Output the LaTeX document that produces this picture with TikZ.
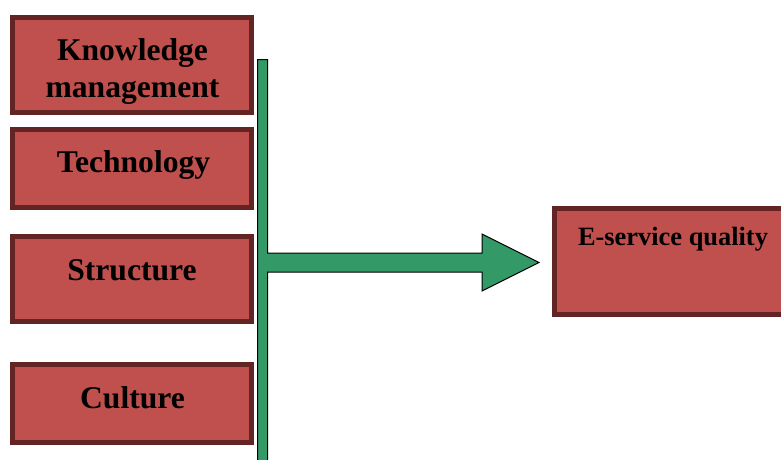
\documentclass[tikz,border=0pt]{standalone}
\usepackage{fontspec}
\setmainfont{Liberation Serif}

\definecolor{boxred}{HTML}{C0504D}
\definecolor{boxedge}{HTML}{632523}
\definecolor{arrowgreen}{HTML}{339966}

\begin{document}
\begin{tikzpicture}[x=1pt, y=-1pt,
    factor/.style={rectangle, draw=boxedge, fill=boxred, line width=5pt,
        anchor=north west, inner sep=0pt, outer sep=0pt, minimum width=239pt},
    caption/.style={anchor=base, inner sep=0pt, align=center,
        font=\fontsize{31.6}{37}\selectfont\bfseries}]

    \useasboundingbox (0,0) rectangle (781,459);

    % the four factors
    \node [factor, minimum height=95pt] (knowledge) at (12.5,17.5) {};
    \node [factor, minimum height=78pt] (technology) at (12.5,129.5) {};
    \node [factor, minimum height=85pt] (structure) at (12.5,236.5) {};
    \node [factor, minimum height=78pt] (culture) at (12.5,364.5) {};
    % base is the last line for the two-line caption
    \node [caption] (knowledgetext) at (132.5,97) {Knowledge\\management};
    \node [caption] (technologytext) at (133.5,172) {Technology};
    \node [caption] (structuretext) at (132,280) {Structure};
    \node [caption] (culturetext) at (132.5,408) {Culture};

    % outcome box, runs off the right edge
    \node [factor, minimum width=240pt, minimum height=106pt] (quality) at (554.5,208.5) {};
    \node [caption, font=\fontsize{26.4}{30}\selectfont\bfseries] (qualitytext) at (673,245) {E-service quality};

    % green bar and block arrow
    \draw [fill=arrowgreen, line width=1pt]
        (257.5,59.5) -- (267.5,59.5) -- (267.5,253) -- (482,253) -- (482,234)
        -- (539,262.5) -- (482,291) -- (482,272) -- (267.5,272) -- (267.5,470)
        -- (257.5,470) -- cycle;
\end{tikzpicture}
\end{document}
